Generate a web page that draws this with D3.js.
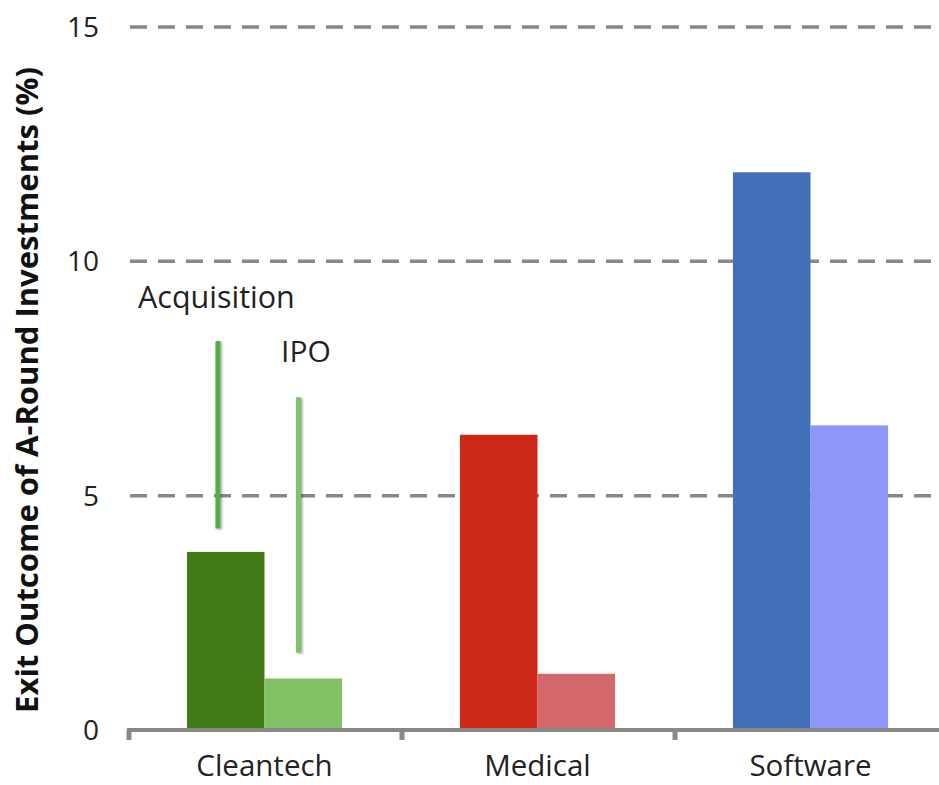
<!DOCTYPE html>
<html>
<head>
<meta charset="utf-8">
<script src="https://cdn.jsdelivr.net/npm/d3@7"></script>
<style>
  html, body { margin: 0; padding: 0; background: #fff; }
  svg { display: block; font-family: "Open Sans", sans-serif; }
</style>
</head>
<body>
<svg id="chart" width="939" height="785"></svg>
<script>
// Exit outcomes (% of A-round investments) by sector
const categories = ["Cleantech", "Medical", "Software"];
const seriesNames = ["Acquisition", "IPO"];
const acquisitionValues = [3.8, 6.3, 11.9];
const ipoValues = [1.1, 1.2, 6.5];
const yTicks = [0, 5, 10, 15];

// Range markers drawn over the Cleantech group
const markerSeries = ["Acquisition", "IPO"];
const markerLow = [4.3, 1.65];
const markerHigh = [8.3, 7.1];

const barColors = {
  Cleantech: ["#427c17", "#83c166"],
  Medical:   ["#cd2718", "#d4676a"],
  Software:  ["#416fba", "#8c97f7"]
};
const markerColors = ["#52ad4c", "#80c46a"];

const svg = d3.select("#chart");
const W = 939;

const x0 = d3.scaleBand().domain(categories).range([128, 947]).paddingInner(0).paddingOuter(0);
const x1 = d3.scaleBand().domain(seriesNames).range([0, x0.bandwidth()]).paddingInner(0).paddingOuter(0.76);
const y = d3.scaleLinear().domain([0, 15]).range([730, 27]);

const defs = svg.append("defs");
const shadow = defs.append("filter").attr("id", "lineShadow")
  .attr("filterUnits", "userSpaceOnUse")
  .attr("x", 0).attr("y", 0).attr("width", W).attr("height", 785);
shadow.append("feDropShadow").attr("dx", 1.5).attr("dy", 1).attr("stdDeviation", 1.2)
  .attr("flood-color", "#000").attr("flood-opacity", 0.35);

// Dashed gridlines
svg.append("g")
  .selectAll("line")
  .data(yTicks.filter(d => d > 0))
  .join("line")
  .attr("x1", 130).attr("x2", W)
  .attr("y1", d => y(d)).attr("y2", d => y(d))
  .attr("stroke", "#888").attr("stroke-width", 3.5)
  .attr("stroke-dasharray", "17 11");

// Y tick labels
svg.append("g")
  .selectAll("text")
  .data(yTicks)
  .join("text")
  .attr("x", 99).attr("y", d => y(d))
  .attr("dy", "0.36em")
  .attr("text-anchor", "end")
  .attr("font-size", 28)
  .attr("fill", "#222")
  .text(d => d);

// Bars
const rows = categories.map((c, i) => ({ cat: c, vals: [acquisitionValues[i], ipoValues[i]] }));
const groups = svg.append("g").selectAll("g")
  .data(rows)
  .join("g")
  .attr("transform", d => `translate(${x0(d.cat)},0)`);
groups.selectAll("rect")
  .data(d => d.vals.map((v, j) => ({ cat: d.cat, series: seriesNames[j], v, j })))
  .join("rect")
  .attr("x", d => x1(d.series))
  .attr("width", x1.bandwidth())
  .attr("y", d => y(d.v))
  .attr("height", d => y(0) - y(d.v))
  .attr("fill", d => barColors[d.cat][d.j]);

// Category axis: baseline, boundary ticks and labels
const axis = svg.append("g");
axis.append("line")
  .attr("x1", 127).attr("x2", W)
  .attr("y1", y(0)).attr("y2", y(0))
  .attr("stroke", "#888").attr("stroke-width", 4);
axis.selectAll("line.tick")
  .data(categories)
  .join("line")
  .attr("class", "tick")
  .attr("x1", d => x0(d) + 1).attr("x2", d => x0(d) + 1)
  .attr("y1", y(0)).attr("y2", y(0) + 10)
  .attr("stroke", "#888").attr("stroke-width", 5);
axis.selectAll("text")
  .data(categories)
  .join("text")
  .attr("x", d => x0(d) + x0.bandwidth() / 2)
  .attr("y", 776)
  .attr("text-anchor", "middle")
  .attr("font-size", 29.5)
  .attr("fill", "#222")
  .text(d => d);

// Y axis title
svg.append("text")
  .attr("transform", "translate(38,390) rotate(-90)")
  .attr("text-anchor", "middle")
  .attr("font-size", 31)
  .attr("font-weight", "bold")
  .attr("fill", "#111")
  .text("Exit Outcome of A-Round Investments (%)");

// Range markers and their labels over Cleantech
const cleanX = x0("Cleantech");
const markerX = [cleanX + x1("Acquisition") + 31, cleanX + x1("IPO") + 34];
svg.append("g")
  .selectAll("rect")
  .data(markerSeries.map((s, i) => ({ s, i })))
  .join("rect")
  .attr("x", d => markerX[d.i] - 2.5)
  .attr("width", 5)
  .attr("y", d => y(markerHigh[d.i]))
  .attr("height", d => y(markerLow[d.i]) - y(markerHigh[d.i]))
  .attr("fill", d => markerColors[d.i])
  .attr("filter", "url(#lineShadow)");

svg.append("text")
  .attr("x", 138).attr("y", 308)
  .attr("font-size", 30.5).attr("fill", "#222")
  .text(markerSeries[0]);
svg.append("text")
  .attr("x", 281).attr("y", 362)
  .attr("font-size", 30).attr("fill", "#222")
  .text(markerSeries[1]);
</script>
</body>
</html>
